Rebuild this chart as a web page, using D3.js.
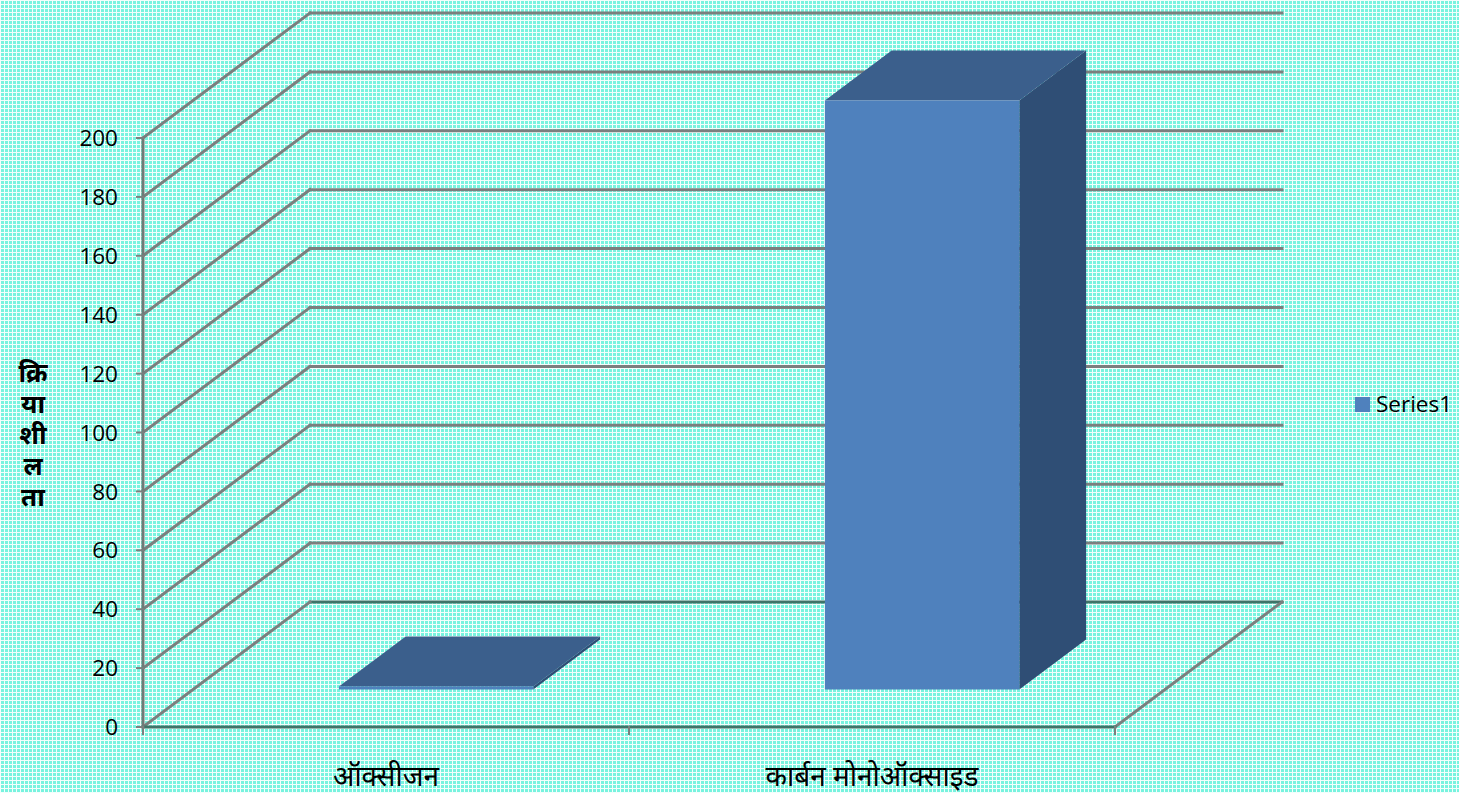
<!DOCTYPE html>
<html>
<head>
<meta charset="utf-8">
<script src="https://cdn.jsdelivr.net/npm/d3@7/dist/d3.min.js"></script>
<style>
  html, body { margin: 0; padding: 0; background: #9ff6e8; }
  svg { display: block; font-family: "Open Sans", "Noto Sans", sans-serif; }
</style>
</head>
<body>
<svg id="chart" width="1459" height="793"></svg>
<script>
// chart data
var categories = ["ऑक्सीजन", "कार्बन मोनोऑक्साइड"];
var values = [1, 200];
var yTicks = [0, 20, 40, 60, 80, 100, 120, 140, 160, 180, 200];
var yTitle = ["क्रि", "या", "शी", "ल", "ता"];
var seriesName = "Series1";

var svg = d3.select("#chart"),
    plotLeft = 143, plotRight = 1115, plotBottom = 727, plotTop = 138,
    depthX = 167, depthY = -125,   // offset of the back wall
    barD0 = 0.3, barD1 = 0.7;      // depth range of the bars

var defs = svg.append("defs");
var pat = defs.append("pattern")
    .attr("id", "bg").attr("width", 4).attr("height", 4)
    .attr("patternUnits", "userSpaceOnUse");
pat.append("rect").attr("width", 4).attr("height", 4).attr("fill", "#78f3df");
pat.append("rect").attr("width", 4).attr("height", 1).attr("fill", "#f2fffc");
pat.append("rect").attr("width", 1).attr("height", 4).attr("fill", "#f2fffc");

svg.append("rect").attr("width", 1459).attr("height", 793).attr("fill", "url(#bg)");

var x = d3.scaleBand().domain(categories).range([plotLeft, plotRight])
    .paddingInner(0.6).paddingOuter(0.3);
var y = d3.scaleLinear().domain([0, 200]).range([plotBottom, plotTop]);

// project a front-plane point back by depth d (0..1)
function proj(px, py, d) {
  return [px + depthX * d, py + depthY * d];
}

var grid = svg.append("g").attr("fill", "none").attr("stroke-linecap", "square");

// back wall gridlines
yTicks.forEach(function(t) {
  var a = proj(plotLeft, y(t), 1), b = proj(plotRight, y(t), 1);
  grid.append("line")
    .attr("x1", a[0]).attr("y1", a[1]).attr("x2", b[0]).attr("y2", b[1])
    .attr("stroke", t === 0 ? "#3f7468" : "#7b7f7e").attr("stroke-width", 3);
});

// side wall gridlines
yTicks.forEach(function(t) {
  var b = proj(plotLeft, y(t), 1);
  grid.append("line")
    .attr("x1", plotLeft).attr("y1", y(t)).attr("x2", b[0]).attr("y2", b[1])
    .attr("stroke", "#7b7f7e").attr("stroke-width", 3);
});

// floor edges
var fr = proj(plotRight, plotBottom, 1);
grid.append("line")
  .attr("x1", plotRight).attr("y1", plotBottom).attr("x2", fr[0]).attr("y2", fr[1])
  .attr("stroke", "#7b7f7e").attr("stroke-width", 3);
grid.append("line")
  .attr("x1", plotLeft).attr("y1", plotBottom).attr("x2", plotRight).attr("y2", plotBottom)
  .attr("stroke", "#3f7468").attr("stroke-width", 3);

// value axis
grid.append("line")
  .attr("x1", plotLeft).attr("y1", plotTop).attr("x2", plotLeft).attr("y2", plotBottom)
  .attr("stroke", "#6f7a77").attr("stroke-width", 3);
yTicks.forEach(function(t) {
  grid.append("line")
    .attr("x1", plotLeft - 6).attr("y1", y(t)).attr("x2", plotLeft).attr("y2", y(t))
    .attr("stroke", "#7b7f7e").attr("stroke-width", 2);
});
[plotLeft, plotLeft + x.step(), plotRight].forEach(function(px) {
  grid.append("line")
    .attr("x1", px).attr("y1", plotBottom).attr("x2", px).attr("y2", plotBottom + 7)
    .attr("stroke", "#7b7f7e").attr("stroke-width", 2);
});

// bars
var bars = svg.append("g");
categories.forEach(function(c, i) {
  var x0 = x(c), x1 = x(c) + x.bandwidth(),
      y0 = y(0), y1 = y(values[i]);
  var fbl = proj(x0, y0, barD0), fbr = proj(x1, y0, barD0),
      ftl = proj(x0, y1, barD0), ftr = proj(x1, y1, barD0),
      bbr = proj(x1, y0, barD1), btl = proj(x0, y1, barD1), btr = proj(x1, y1, barD1);
  bars.append("polygon")
    .attr("points", [fbr, bbr, btr, ftr].join(" "))
    .attr("fill", "#2f4e75");
  bars.append("polygon")
    .attr("points", [ftl, ftr, btr, btl].join(" "))
    .attr("fill", "#3b5f8c");
  bars.append("polygon")
    .attr("points", [fbl, fbr, ftr, ftl].join(" "))
    .attr("fill", "#4f81bd");
});

// tick labels
svg.append("g").selectAll("text").data(yTicks).enter().append("text")
  .attr("x", 118).attr("y", function(d) { return y(d); })
  .attr("dy", "0.36em")
  .attr("text-anchor", "end")
  .attr("font-size", 22.5)
  .attr("fill", "#000")
  .text(function(d) { return d; });

svg.append("g").selectAll("text").data(categories).enter().append("text")
  .attr("x", function(d) { return x(d) + x.bandwidth() / 2; })
  .attr("y", 786)
  .attr("text-anchor", "middle")
  .attr("font-size", 28)
  .attr("fill", "#000")
  .text(function(d) { return d; });

// axis title, one syllable per line
svg.append("g").selectAll("text").data(yTitle).enter().append("text")
  .attr("x", 33).attr("y", function(d, i) { return 382 + i * 31; })
  .attr("text-anchor", "middle")
  .attr("font-size", 26)
  .attr("font-weight", "bold")
  .attr("fill", "#000")
  .text(function(d) { return d; });

// legend
svg.append("rect")
  .attr("x", 1355).attr("y", 397).attr("width", 15).attr("height", 15)
  .attr("fill", "#4f81bd");
svg.append("text")
  .attr("x", 1376).attr("y", 412)
  .attr("font-size", 22.5)
  .attr("fill", "#000")
  .text(seriesName);
</script>
</body>
</html>
